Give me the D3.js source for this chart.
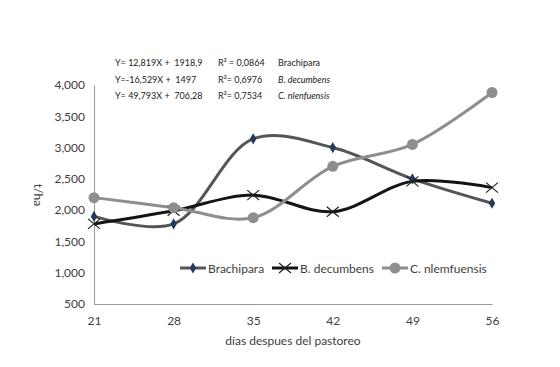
<!DOCTYPE html>
<html>
<head>
<meta charset="utf-8">
<title>t/ha</title>
<script src="https://d3js.org/d3.v7.min.js"></script>
<style>
  body { margin: 0; background: #fff; }
  text { font-family: Lato, "Open Sans", sans-serif; }
</style>
</head>
<body>
<div id="chart"></div>
<script>
// data
const days = [21, 28, 35, 42, 49, 56];
const brachipara = [1900, 1780, 3140, 3000, 2500, 2110];
const decumbens = [1780, 1990, 2240, 1975, 2460, 2360];
const nlemfuensis = [2200, 2040, 1880, 2700, 3050, 3880];
const yTicks = [500, 1000, 1500, 2000, 2500, 3000, 3500, 4000];
const equations = ['Y= 12,819X +\u00a0 1918,9', 'Y=-16,529X +\u00a0 1497', 'Y= 49,793X +\u00a0 706,28'];
const r2 = ['R\u00b2 = 0,0864', 'R\u00b2= 0,6976', 'R\u00b2= 0,7534'];
const names = ['Brachipara', 'B. decumbens', 'C. nlemfuensis'];
const eqNames = ['Brachipara', 'B. decumbens', 'C. nlenfuensis'];

const width = 560, height = 367;
const margin = { left: 94, right: 68, top: 85, bottom: 63 };

const svg = d3.select('#chart').append('svg')
  .attr('width', width)
  .attr('height', height);

const x = d3.scalePoint()
  .domain(days)
  .range([margin.left, width - margin.right]);

const y = d3.scaleLinear()
  .domain([500, 4000])
  .range([height - margin.bottom, margin.top]);

// axes
const yAxis = svg.append('g')
  .attr('transform', `translate(${margin.left},0)`)
  .call(d3.axisLeft(y).tickValues(yTicks).tickSize(0).tickPadding(9).tickFormat(d3.format(',')));
yAxis.select('.domain').attr('stroke', '#9a9a9a');
yAxis.selectAll('text').attr('fill', '#404040').style('font-size', '12px');

const xAxis = svg.append('g')
  .attr('transform', `translate(0,${height - margin.bottom})`)
  .call(d3.axisBottom(x).tickSize(0).tickPadding(12));
xAxis.select('.domain').attr('stroke', '#9a9a9a');
xAxis.selectAll('text').attr('fill', '#404040').style('font-size', '12px');

svg.append('text')
  .attr('x', (margin.left + width - margin.right) / 2)
  .attr('y', 345)
  .attr('text-anchor', 'middle')
  .attr('fill', '#404040')
  .style('font-size', '12px')
  .text('días despues del pastoreo');

svg.append('text')
  .attr('transform', 'translate(34,195) rotate(90)')
  .attr('text-anchor', 'middle')
  .attr('fill', '#404040')
  .style('font-size', '12px')
  .text('t/ha');

// series
const series = [
  { name: names[0], values: brachipara, color: '#555555', marker: 'diamond', mcolor: '#243a5a' },
  { name: names[1], values: decumbens, color: '#141414', marker: 'x', mcolor: '#222' },
  { name: names[2], values: nlemfuensis, color: '#8e8e8e', marker: 'circle', mcolor: '#8e8e8e' }
];

const line = d3.line()
  .x((d, i) => x(days[i]))
  .y(d => y(d))
  .curve(d3.curveCatmullRom.alpha(0.5));

function drawMarker(g, type, mcolor, cx, cy) {
  if (type === 'diamond') {
    g.append('path')
      .attr('d', d3.symbol().type(d3.symbolDiamond).size(36))
      .attr('transform', `translate(${cx},${cy})`)
      .attr('fill', mcolor);
  } else if (type === 'x') {
    g.append('path')
      .attr('d', 'M-6,-5L6,5M-6,5L6,-5')
      .attr('transform', `translate(${cx},${cy})`)
      .attr('stroke', mcolor)
      .attr('stroke-width', 1.2)
      .attr('fill', 'none');
  } else {
    g.append('circle')
      .attr('cx', cx).attr('cy', cy).attr('r', 5.5)
      .attr('fill', mcolor);
  }
}

series.forEach(s => {
  svg.append('path')
    .datum(s.values)
    .attr('d', line)
    .attr('fill', 'none')
    .attr('stroke', s.color)
    .attr('stroke-width', 3);
});
series.forEach(s => {
  const g = svg.append('g');
  s.values.forEach((v, i) => drawMarker(g, s.marker, s.mcolor, x(days[i]), y(v)));
});

// legend
const legendX = [180, 272, 382];
const legend = svg.append('g');
series.forEach((s, i) => {
  const lx = legendX[i], ly = 268;
  legend.append('line')
    .attr('x1', lx).attr('x2', lx + 26)
    .attr('y1', ly).attr('y2', ly)
    .attr('stroke', s.color).attr('stroke-width', 3);
  drawMarker(legend, s.marker, s.mcolor, lx + 13, ly);
  legend.append('text')
    .attr('x', lx + 28).attr('y', ly + 4.5)
    .attr('fill', '#404040')
    .style('font-size', '12px')
    .text(s.name);
});

// regression equations
const eq = svg.append('g')
  .style('font-size', '9px')
  .attr('fill', '#222');
equations.forEach((t, i) => {
  const ey = 66 + i * 16.5;
  eq.append('text').attr('x', 115).attr('y', ey).text(t);
  eq.append('text').attr('x', 218).attr('y', ey).text(r2[i]);
  eq.append('text').attr('x', 278).attr('y', ey)
    .style('font-style', i === 0 ? 'normal' : 'italic')
    .text(eqNames[i]);
});
</script>
</body>
</html>
